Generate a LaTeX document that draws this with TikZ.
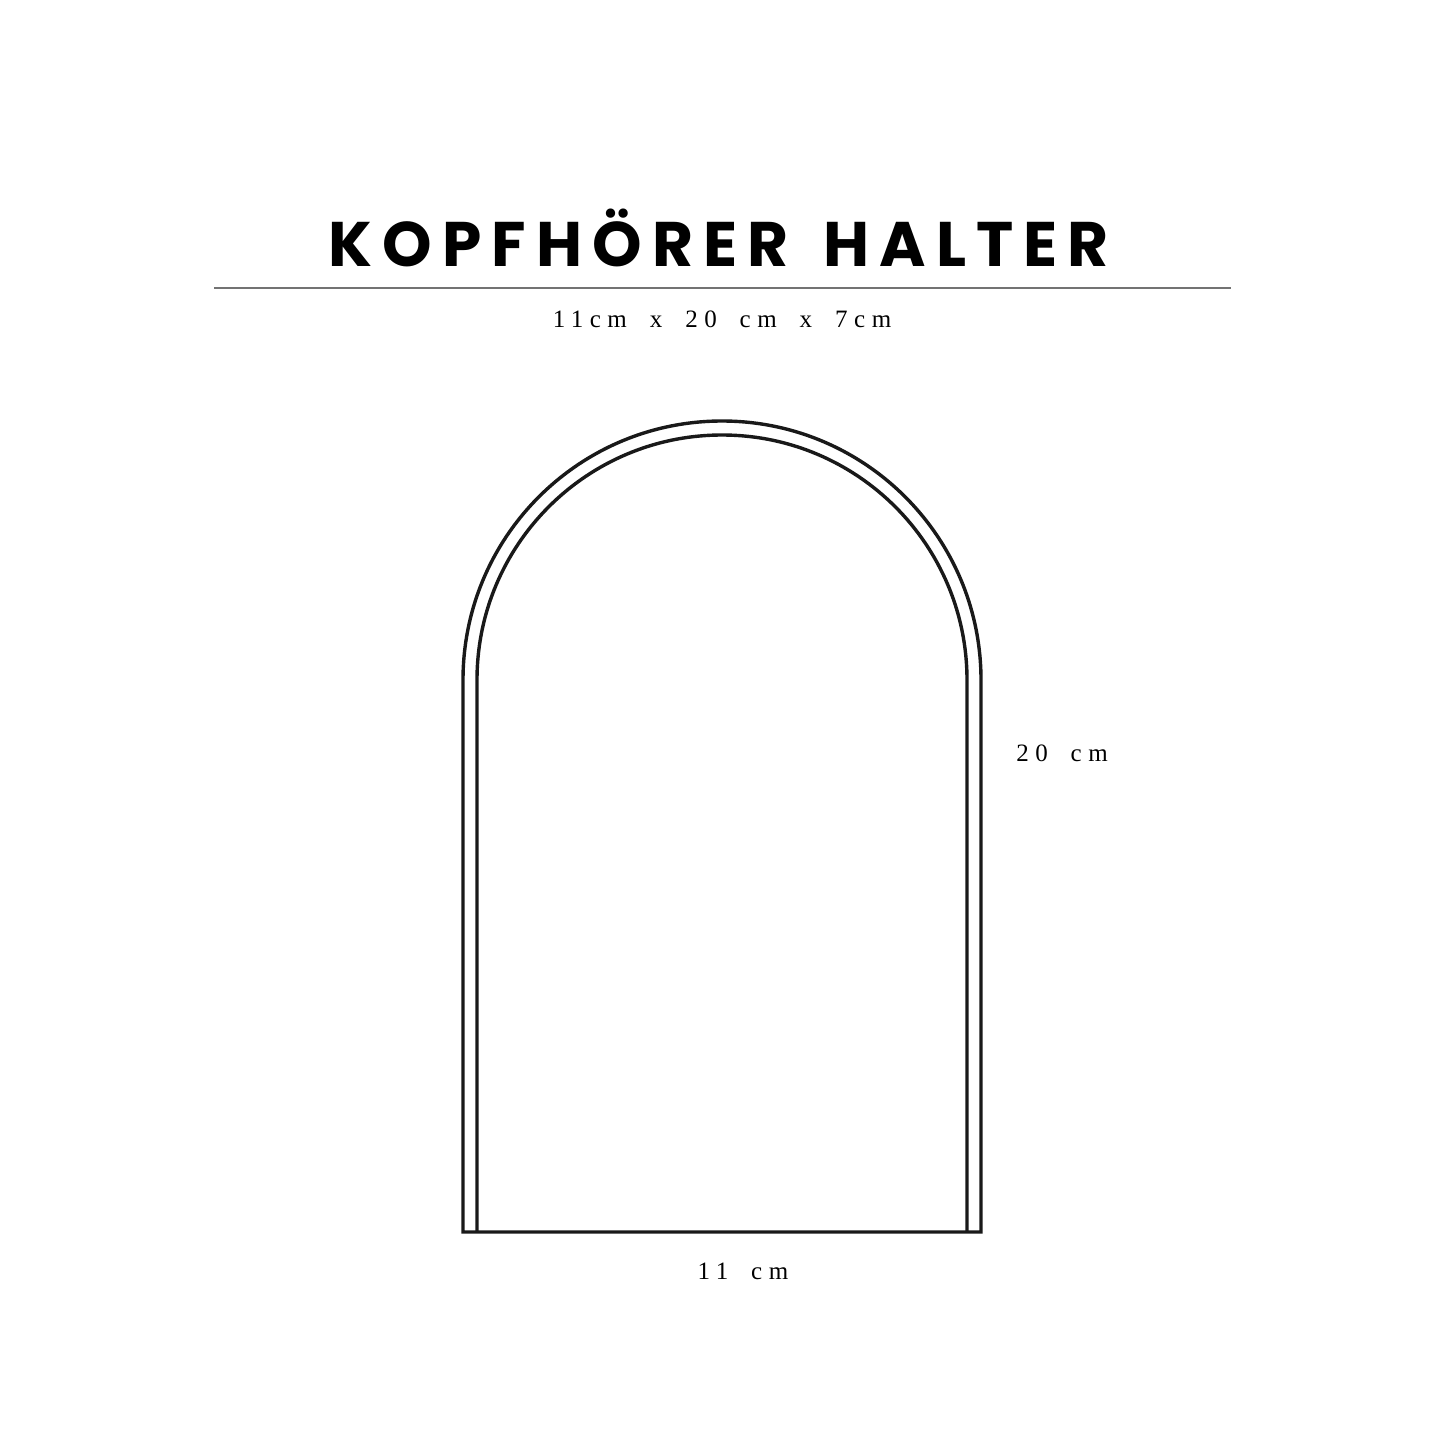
\documentclass[tikz,border=0pt]{standalone}
\usepackage{fontspec}
\newfontfamily\titlefont[LetterSpace=16,WordSpace=1.5]{Poppins}
\newfontfamily\dimfont[LetterSpace=26,WordSpace=1.8]{Liberation Serif}
\tikzset{
  outline/.style={line width=3.4pt, draw=black!90, line join=miter},
  dimtext/.style={font=\dimfont\fontsize{25}{28}\selectfont, inner sep=0pt, anchor=base},
}
\begin{document}
\begin{tikzpicture}[x=1pt,y=-1pt]
\useasboundingbox[fill=white] (0,0) rectangle (1445,1445);
% title
\node[font=\titlefont\bfseries\fontsize{63}{70}\selectfont, inner sep=0pt, anchor=base] (title) at (719,266) {KOPFHÖRER HALTER};
\draw[line width=1.3pt, draw=black!55] (214,288) -- (1231,288);
\node[dimtext] (dims) at (722,327) {11cm x 20 cm x 7cm};
% arch
\draw[outline] (463,1232) -- (463,680) arc[start angle=180, end angle=360, radius=259] -- (981,1232) -- cycle;
\draw[outline] (477,1232) -- (477,680) arc[start angle=180, end angle=360, radius=245] -- (967,1232);
% labels
\node[dimtext] (h) at (1062,761) {20 cm};
\node[dimtext] (w) at (743,1279) {11 cm};
\end{tikzpicture}
\end{document}
